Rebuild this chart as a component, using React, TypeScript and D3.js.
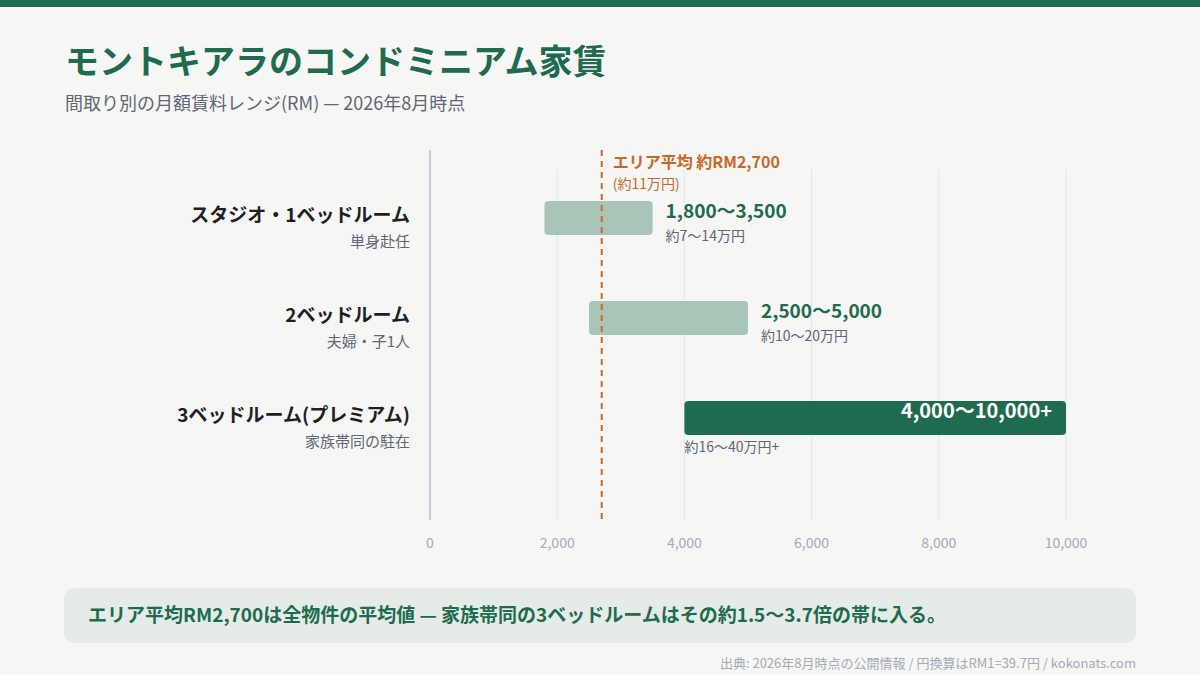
import React from "react";
import * as d3 from "d3";

const categories = ["スタジオ・1ベッドルーム", "2ベッドルーム", "3ベッドルーム(プレミアム)"];
const subLabels = ["単身赴任", "夫婦・子1人", "家族帯同の駐在"];
const lowValues = [1800, 2500, 4000];
const highValues = [3500, 5000, 10000];
const rangeLabels = ["1,800〜3,500", "2,500〜5,000", "4,000〜10,000+"];
const yenLabels = ["約7〜14万円", "約10〜20万円", "約16〜40万円+"];
const highlight = [false, false, true];
const tickValues = [0, 2000, 4000, 6000, 8000, 10000];
const areaAverage = 2700;

const FONT = "'Noto Sans CJK JP', 'Noto Sans', sans-serif";
const GREEN = "#1f6b4f";
const LIGHT = "#a8c5b7";
const GRAY = "#5f6675";
const TICK = "#a3aab8";
const ORANGE = "#c8692a";

export default function App() {
  const x = d3.scaleLinear().domain([0, 10000]).range([430, 1066]);
  const yc = d3.scalePoint<number>().domain([0, 1, 2]).range([218, 418]);
  const bw = 34;
  const ax = x(areaAverage);

  return (
    <svg width={1200} height={675} style={{ position: "absolute", left: 0, top: 0, fontFamily: FONT }}>
      <rect x={0} y={0} width={1200} height={675} fill="#f6f6f4" />
      <rect x={0} y={0} width={1200} height={7} fill={GREEN} />
      <text x={65} y={74} fontSize={34} fontWeight={700} fill={GREEN}>モントキアラのコンドミニアム家賃</text>
      <text x={65} y={110} fontSize={18} fill={GRAY}>間取り別の月額賃料レンジ(RM) — 2026年8月時点</text>

      {tickValues.slice(1).map((t) => (
        <line key={t} x1={x(t)} x2={x(t)} y1={170} y2={520} stroke="#e3e5ea" strokeWidth={1} />
      ))}
      <line x1={x(0)} x2={x(0)} y1={150} y2={520} stroke="#c5c9d6" strokeWidth={2} />
      {tickValues.map((t) => (
        <text key={t} x={x(t)} y={548} fontSize={14} fill={TICK} textAnchor="middle">{d3.format(",")(t)}</text>
      ))}

      {categories.map((c, i) => {
        const cy = yc(i) as number;
        const yy = cy - bw / 2;
        const x0 = x(lowValues[i]);
        const x1 = x(highValues[i]);
        return (
          <g key={c}>
            <text x={410} y={cy + 4} fontSize={19} fontWeight={700} fill="#1d1f24" textAnchor="end">{c}</text>
            <text x={410} y={cy + 29} fontSize={15} fill={GRAY} textAnchor="end">{subLabels[i]}</text>
            <rect x={x0} y={yy} width={x1 - x0} height={bw} rx={4} fill={highlight[i] ? GREEN : LIGHT} />
            {highlight[i] ? (
              <>
                <text x={x1 - 14} y={cy + 0} fontSize={20} fontWeight={700} fill="#ffffff" textAnchor="end">{rangeLabels[i]}</text>
                <text x={x0} y={cy + 34} fontSize={14} fill={GRAY}>{yenLabels[i]}</text>
              </>
            ) : (
              <>
                <text x={x1 + 13} y={cy + 0} fontSize={19} fontWeight={700} fill={GREEN}>{rangeLabels[i]}</text>
                <text x={x1 + 13} y={cy + 23} fontSize={14} fill={GRAY}>{yenLabels[i]}</text>
              </>
            )}
          </g>
        );
      })}

      <line x1={ax} x2={ax} y1={150} y2={520} stroke={ORANGE} strokeWidth={2} strokeDasharray="6,5" />
      <text x={ax + 11} y={168} fontSize={16} fontWeight={700} fill={ORANGE}>エリア平均 約RM2,700</text>
      <text x={ax + 11} y={189} fontSize={14} fill={ORANGE}>(約11万円)</text>

      <rect x={64} y={588} width={1072} height={55} rx={10} fill="#e5ece8" />
      <text x={88} y={622} fontSize={19} fontWeight={700} fill={GREEN}>エリア平均RM2,700は全物件の平均値 — 家族帯同の3ベッドルームはその約1.5〜3.7倍の帯に入る。</text>
      <text x={1136} y={668} fontSize={13} fill={TICK} textAnchor="end">出典: 2026年8月時点の公開情報 / 円換算はRM1=39.7円 / kokonats.com</text>
    </svg>
  );
}
